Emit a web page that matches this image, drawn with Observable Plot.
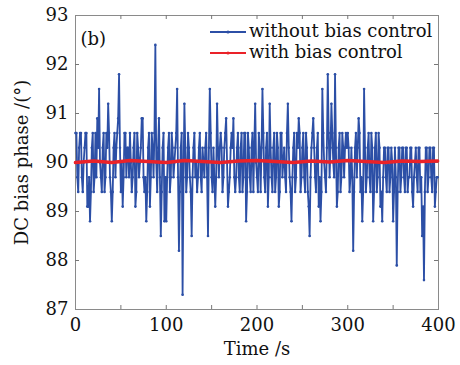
<!DOCTYPE html>
<html><head><meta charset="utf-8">
<script src="https://cdn.jsdelivr.net/npm/d3@7"></script>
<script src="https://cdn.jsdelivr.net/npm/@observablehq/plot@0.6"></script>
<style>
html,body{margin:0;padding:0;background:#fff;}
#wrap{position:relative;width:460px;height:365px;}
.lg{position:absolute;font-family:"DejaVu Serif";font-size:18px;color:#111;white-space:nowrap;line-height:1;}
</style></head><body><div id="wrap"></div>
<script>
// Time (s) sampling of the uncontrolled phase record (1 s)
const times = d3.range(0, 400, 1);
// DC bias phase without bias control (deg), 20 s per row
const withoutBias = [
  90.6, 90.6, 89.7, 89.4, 90.3, 90.6, 90.6, 89.7, 89.4, 90.0, 90.3, 90.6, 90.6, 89.1, 89.1, 89.7, 88.8, 89.4, 90.3, 90.6,
  89.4, 89.7, 90.6, 89.7, 90.9, 90.3, 91.5, 90.0, 89.7, 89.4, 90.3, 90.6, 89.4, 89.7, 90.6, 90.3, 91.2, 90.6, 89.7, 89.4,
  88.8, 89.4, 90.3, 90.6, 89.7, 90.3, 90.6, 90.9, 91.8, 90.3, 89.4, 90.0, 89.1, 89.7, 90.6, 90.6, 89.7, 90.3, 90.3, 89.7,
  90.6, 90.0, 89.4, 89.7, 90.3, 90.6, 89.1, 89.4, 90.6, 90.3, 89.7, 90.0, 90.3, 90.9, 90.9, 89.7, 89.4, 89.7, 88.8, 89.4,
  90.3, 90.6, 89.1, 89.7, 90.6, 90.3, 89.7, 90.6, 92.4, 90.0, 89.4, 90.3, 90.9, 89.7, 88.5, 89.4, 90.3, 90.6, 88.8, 89.7,
  88.8, 89.7, 90.3, 90.6, 89.4, 89.7, 90.6, 90.3, 89.7, 90.0, 90.3, 90.6, 91.5, 89.7, 88.2, 89.4, 90.3, 90.6, 87.3, 89.7,
  91.2, 90.3, 89.4, 89.7, 90.6, 90.3, 89.7, 89.4, 88.5, 89.7, 90.3, 90.6, 89.7, 90.0, 89.4, 89.7, 90.3, 90.6, 89.7, 89.4,
  90.3, 90.0, 89.7, 90.3, 90.6, 89.7, 88.5, 90.3, 91.5, 90.6, 89.7, 89.4, 90.3, 89.7, 89.1, 89.7, 91.2, 90.3, 89.7, 90.3,
  90.6, 90.3, 89.4, 89.7, 90.3, 90.6, 90.9, 90.0, 89.1, 89.4, 89.7, 90.3, 90.6, 90.3, 90.9, 89.7, 89.4, 89.7, 90.3, 90.6,
  89.7, 89.4, 90.3, 90.6, 89.4, 89.7, 90.6, 90.6, 88.8, 89.4, 90.6, 90.3, 89.7, 89.4, 90.3, 90.6, 89.4, 90.3, 91.2, 90.0,
  89.7, 89.4, 90.6, 90.3, 89.4, 90.3, 91.5, 90.6, 89.7, 89.4, 90.3, 90.6, 89.1, 89.7, 91.2, 90.3, 89.7, 89.4, 90.3, 90.6,
  89.4, 89.7, 90.6, 90.3, 89.1, 89.4, 90.6, 90.6, 89.7, 90.0, 90.3, 89.7, 89.4, 90.6, 91.2, 90.3, 89.7, 89.4, 88.8, 89.7,
  90.3, 90.6, 89.4, 89.7, 90.6, 90.3, 90.9, 90.6, 89.4, 89.7, 90.3, 90.6, 89.7, 89.4, 90.6, 90.3, 89.4, 89.1, 88.5, 89.7,
  90.3, 90.6, 90.9, 90.3, 89.7, 89.4, 90.3, 90.6, 89.1, 89.7, 88.8, 89.4, 91.5, 90.6, 90.0, 89.7, 89.4, 90.3, 91.8, 90.6,
  89.7, 90.3, 91.2, 90.6, 90.0, 89.7, 91.8, 90.3, 89.1, 89.4, 90.3, 90.6, 89.4, 89.7, 90.6, 90.3, 89.7, 90.3, 90.6, 90.3,
  90.6, 90.3, 89.4, 89.7, 90.3, 89.7, 88.2, 89.4, 90.3, 90.6, 89.7, 90.3, 90.9, 90.6, 89.4, 89.7, 88.8, 89.4, 91.5, 90.3,
  89.4, 89.7, 90.3, 90.6, 89.7, 89.4, 90.6, 90.3, 88.8, 89.4, 90.3, 90.6, 89.4, 89.7, 90.6, 90.3, 89.1, 89.4, 88.8, 89.7,
  90.3, 90.3, 89.7, 89.4, 90.3, 90.3, 89.4, 89.7, 90.3, 90.0, 88.8, 89.4, 90.3, 89.7, 87.9, 89.4, 90.3, 90.3, 89.4, 89.7,
  90.3, 90.3, 89.7, 89.4, 90.3, 90.3, 89.4, 89.7, 89.7, 90.3, 90.3, 89.4, 89.1, 89.7, 90.0, 90.3, 89.7, 89.4, 90.3, 90.3,
  89.4, 89.7, 88.5, 89.1, 87.6, 89.4, 90.3, 90.3, 89.4, 89.7, 90.3, 90.3, 89.7, 89.4, 90.3, 90.3, 89.1, 89.4, 89.7, 89.7
];
// DC bias phase with bias control (deg)
const withTimes = [0, 20, 40, 60, 80, 100, 120, 140, 160, 180, 200, 220, 240, 260, 280, 300, 320, 340, 360, 380, 399];
const withBias = [90.0, 90.03, 90.0, 90.04, 90.02, 90.0, 90.04, 90.02, 90.0, 90.03, 90.04, 90.02, 90.0, 90.03, 90.01, 90.04, 90.02, 90.0, 90.03, 90.02, 90.03];
// Axis ticks
const xTicks = [50, 100, 150, 200, 250, 300, 350];
const xLabels = [0, 100, 200, 300, 400];
const yTicks = [88, 89, 90, 91, 92];
const yLabels = [87, 88, 89, 90, 91, 92, 93];
const seriesNames = ["without bias control", "with bias control"];
const colors = ["#2c4fa6", "#ea2229"];

const blueData = times.map((t, i) => ({t, v: withoutBias[i]}));
const redData = withTimes.map((t, i) => ({t, v: withBias[i]}));

const chart = Plot.plot({
  width: 460, height: 365,
  marginLeft: 75, marginRight: 22, marginTop: 15, marginBottom: 56,
  style: {fontFamily: "DejaVu Serif", fontSize: "18px", background: "white", color: "#111"},
  x: {domain: [0, 400]},
  y: {domain: [87, 93]},
  marks: [
    Plot.frame({stroke: "#8a8a8a"}),
    Plot.tickX(xTicks, {x: d => d, insetTop: 290, stroke: "#777"}),
    Plot.tickX(xTicks, {x: d => d, insetBottom: 290, stroke: "#777"}),
    Plot.tickY(yTicks, {y: d => d, insetLeft: 359, stroke: "#777"}),
    Plot.tickY(yTicks, {y: d => d, insetRight: 359, stroke: "#777"}),
    Plot.axisX(xLabels, {tickSize: 0, tickPadding: 9, label: null}),
    Plot.axisY(yLabels, {tickSize: 0, tickPadding: 7, label: null}),
    Plot.line(blueData, {x: "t", y: "v", stroke: colors[0], strokeWidth: 1.8}),
    Plot.dot(blueData, {x: "t", y: "v", r: 1.3, fill: colors[0]}),
    Plot.line(redData, {x: "t", y: "v", stroke: colors[1], strokeWidth: 3.6}),
    Plot.text(["(b)"], {frameAnchor: "top-left", dx: 5, dy: 17, textAnchor: "start", fontSize: 18}),
    Plot.text(["Time /s"], {frameAnchor: "bottom", dy: 45, fontSize: 18}),
    Plot.text(["DC bias phase /(°)"], {frameAnchor: "left", dx: -53, rotate: -90, textAnchor: "middle", fontSize: 18})
  ]
});
const wrap = document.getElementById("wrap");
wrap.appendChild(chart);

seriesNames.forEach((name, i) => {
  const top = 22 + i * 21;
  const sw = document.createElementNS("http://www.w3.org/2000/svg", "svg");
  sw.setAttribute("width", 40); sw.setAttribute("height", 10);
  sw.style.position = "absolute"; sw.style.left = "208px"; sw.style.top = (top + 5) + "px";
  sw.innerHTML = `<line x1="2" x2="38" y1="5" y2="5" stroke="${colors[i]}" stroke-width="${i ? 2 : 1.8}"/><circle cx="20" cy="5" r="1.6" fill="${colors[i]}"/>`;
  wrap.appendChild(sw);
  const lab = document.createElement("div");
  lab.className = "lg";
  lab.style.left = "249px"; lab.style.top = (top) + "px";
  lab.textContent = name;
  wrap.appendChild(lab);
});
</script></body></html>
